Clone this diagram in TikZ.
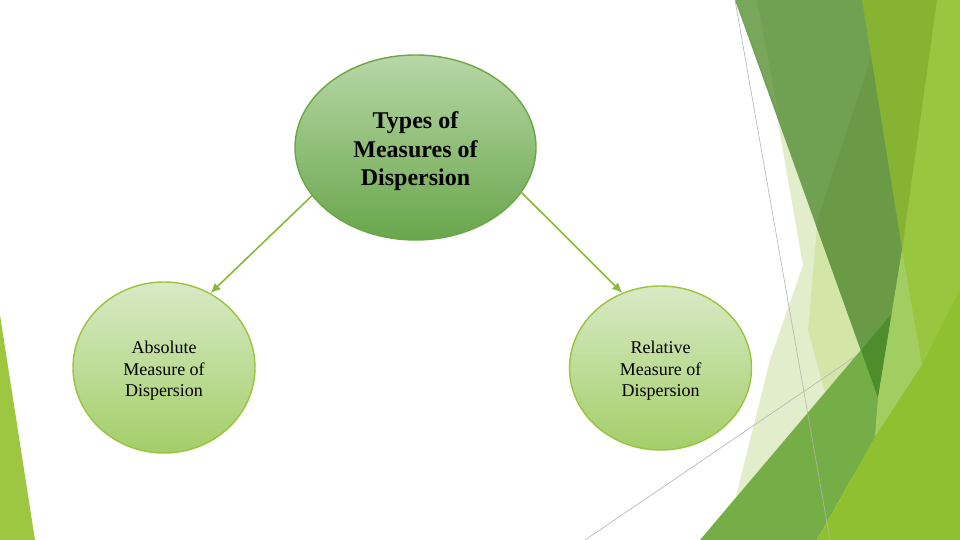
\documentclass[tikz,border=0pt]{standalone}
\usepackage{fontspec}
\setmainfont{Liberation Serif}
\usetikzlibrary{shapes.geometric,arrows.meta}
\definecolor{stripg}{HTML}{9DC741}
\definecolor{rightg}{HTML}{99C63F}
\definecolor{yellowg}{HTML}{86B332}
\definecolor{lightg}{HTML}{A2CD60}
\definecolor{paleA}{HTML}{E1EDCB}
\definecolor{paleB}{HTML}{D3E6A8}
\definecolor{wedgeA}{HTML}{70A052}
\definecolor{wedgeB}{HTML}{6A9A45}
\definecolor{wedgeC}{HTML}{78A75C}
\definecolor{midg}{HTML}{75AE46}
\definecolor{tipg}{HTML}{4E8C2C}
\definecolor{botg}{HTML}{8EC030}
\definecolor{topTop}{HTML}{B8D7A6}
\definecolor{topBot}{HTML}{68A64B}
\definecolor{topEdge}{HTML}{6AA645}
\definecolor{subTop}{HTML}{D8EAC6}
\definecolor{subBot}{HTML}{A3CE69}
\definecolor{subEdge}{HTML}{9BC43C}
\definecolor{arrowg}{HTML}{8CB83A}
\definecolor{thinline}{HTML}{B4B4B4}
\begin{document}
\begin{tikzpicture}[x=1pt,y=-1pt,
  mainnode/.style={ellipse, draw=topEdge, line width=1.4pt, top color=topTop, bottom color=topBot,
    minimum width=241pt, minimum height=185pt, inner sep=0pt},
  maintext/.style={inner sep=0pt, align=center, font=\fontsize{24}{28.5}\selectfont\bfseries},
  subnode/.style={ellipse, draw=subEdge, line width=1.4pt, top color=subTop, bottom color=subBot,
    minimum width=182pt, inner sep=0pt},
  subtext/.style={inner sep=0pt, align=center, font=\fontsize{18}{21.5}\selectfont},
  link/.style={draw=arrowg, line width=1.6pt, -{Latex[length=10pt,width=9pt]}},
  hair/.style={draw=thinline, line width=0.6pt}]
\useasboundingbox (0,0) rectangle (960,540);
\fill[white] (0,0) rectangle (960,540);
% left strip
\fill[stripg] (0,315) -- (35,540) -- (0,540) -- cycle;
% right decoration
\fill[rightg] (880,0) -- (960,0) -- (960,540) -- (850,540) -- cycle;
\fill[yellowg] (855,0) -- (937,0) -- (902,250) -- cycle;
\fill[paleA] (777,117) -- (803,265) -- (770,360) -- (735,500) -- (722,514) -- (861,350) -- cycle;
\fill[paleB] (817,227) -- (861,350) -- (825,393) -- (808,330) -- cycle;
\fill[wedgeA] (735,0) -- (862,0) -- (902,250) -- (878,398) -- cycle;
\fill[wedgeB] (871,57) -- (902,250) -- (878,398) -- (816,225) -- cycle;
\fill[wedgeC] (735,0) -- (757,0) -- (778,112) -- cycle;
\fill[midg] (700,540) -- (891.7,313.7) -- (878,398) -- (875,437) -- (817,540) -- cycle;
\fill[tipg] (861,350) -- (891.7,313.7) -- (878,398) -- cycle;
\fill[lightg] (902,250) -- (922,365) -- (875,437) -- (878,398) -- cycle;
\fill[botg] (817,540) -- (875,437) -- (922,365) -- (960,290) -- (960,540) -- cycle;
\draw[hair] (735,0) -- (830,540);
\draw[hair] (585,540) -- (856,356);
% nodes
\node[mainnode] (top) at (415.5,147.5) {};
\node[maintext] (toptext) at (415.5,151.5) {Types of\\Measures of\\Dispersion};
\node[subnode, minimum height=171pt] (abs) at (164,367.5) {};
\node[subtext] (abstext) at (164,371) {Absolute\\Measure of\\Dispersion};
\node[subnode, minimum height=164pt] (rel) at (660.5,368) {};
\node[subtext] (reltext) at (660.5,371) {Relative\\Measure of\\Dispersion};
% connectors
\draw[link] (top.205) -- (abs.58);
\draw[link] (top.-23) -- (rel.117);
\end{tikzpicture}
\end{document}
